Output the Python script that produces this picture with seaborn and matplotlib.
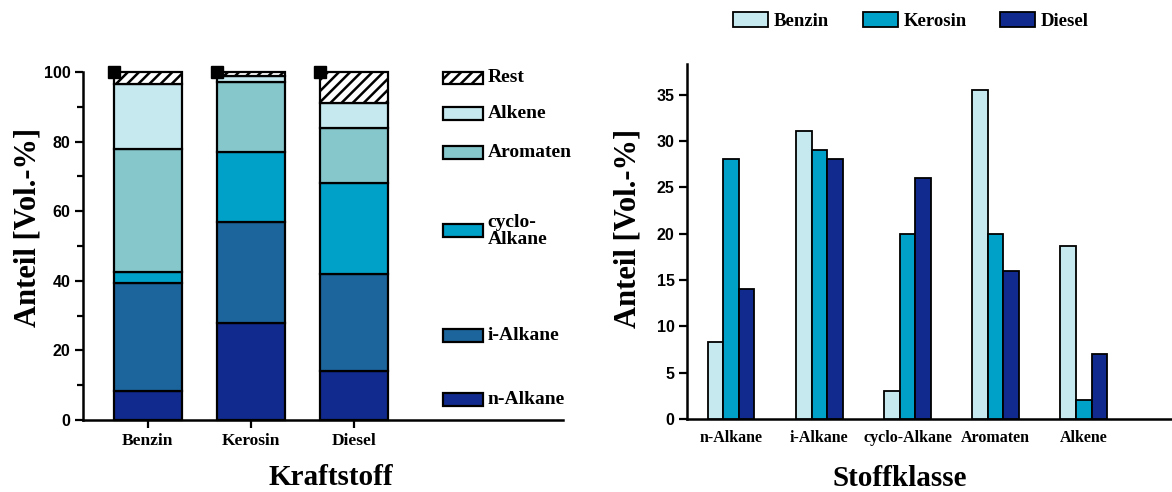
import numpy as np
import pandas as pd
import matplotlib.pyplot as plt
import seaborn as sns
from matplotlib.patches import Rectangle

# data
fuels = ["Benzin", "Kerosin", "Diesel"]
classes = ["n-Alkane", "i-Alkane", "cyclo-Alkane", "Aromaten", "Alkene"]
benzin = [8.3, 31.1, 3.0, 35.5, 18.7]
kerosin = [28.0, 29.0, 20.0, 20.0, 2.0]
diesel = [14.0, 28.0, 26.0, 16.0, 7.0]
totals = [100.0, 100.0, 100.0]

stack_names = ["n-Alkane", "i-Alkane", "cyclo-\nAlkane", "Aromaten", "Alkene", "Rest"]
class_colors = ["#112a8e", "#1b649c", "#00a1c8", "#86c7cc", "#c6e9f0", "white"]
fuel_colors = ["#c6e9f0", "#00a1c8", "#112a8e"]

sns.set_style("ticks")
plt.rcParams.update({
    "hatch.linewidth": 1.8,
    "text.color": "black",
    "axes.labelcolor": "black",
    "axes.edgecolor": "black",
    "xtick.color": "black",
    "ytick.color": "black",
})
SANS = ["Liberation Sans", "DejaVu Sans"]
SERIF = ["Liberation Serif", "DejaVu Serif"]

fig = plt.figure(figsize=(11.72, 4.92), dpi=100)
ax1 = fig.add_axes([0.0708, 0.1463, 0.4096, 0.7073])
ax2 = fig.add_axes([0.5862, 0.1484, 0.4138, 0.7215])

# ---------------- left: stacked bars ----------------
comp = np.array([benzin, kerosin, diesel])  # fuels x classes
rest = np.array(totals) - comp.sum(axis=1)
layers = np.column_stack([comp, rest])
x = np.arange(len(fuels))
bw = 0.66
bottom = np.zeros(len(fuels))
for k in range(layers.shape[1]):
    ax1.bar(x, layers[:, k], bw, bottom=bottom, color=class_colors[k],
            edgecolor="black", linewidth=1.6, hatch="///" if k == 5 else None,
            clip_on=False, zorder=3)
    bottom += layers[:, k]
ax1.plot(x - bw / 2, totals, "s", color="black", markersize=8, clip_on=False, zorder=5)

ax1.set_xlim(-0.63, 4.03)
ax1.set_ylim(0, 100)
ax1.set_yticks([0, 20, 40, 60, 80, 100])
ax1.set_yticks([10, 30, 50, 70, 90], minor=True)
ax1.set_xticks(x)
ax1.set_xticklabels(fuels, family=SERIF, fontweight="bold", fontsize=12.5)
for t in ax1.get_yticklabels():
    t.set_family(SANS)
    t.set_fontweight("bold")
    t.set_fontsize(11.5)
ax1.tick_params(axis="both", which="major", length=6, width=1.6, pad=3)
ax1.tick_params(axis="y", which="minor", length=4, width=1.6)
ax1.set_ylabel("Anteil [Vol.-%]", family=SERIF, fontweight="bold", fontsize=22)
ax1.set_xlabel("Kraftstoff", family=SERIF, fontweight="bold", fontsize=21)
ax1.yaxis.set_label_coords(-0.085, 0.552)
ax1.xaxis.set_label_coords(0.517, -0.125)
sns.despine(ax=ax1)
for s in ["left", "bottom"]:
    ax1.spines[s].set_linewidth(1.8)

# manual legend for stacked chart
leg_y = [6.0, 24.4, 54.4, 76.8, 88.0, 98.3]
for k in range(len(stack_names)):
    ax1.add_patch(Rectangle((2.86, leg_y[k] - 1.85), 0.39, 3.7, facecolor=class_colors[k],
                            edgecolor="black", linewidth=1.6,
                            hatch="///" if k == 5 else None, clip_on=False))
    ax1.text(3.3, leg_y[k], stack_names[k], family=SERIF, fontweight="bold",
             fontsize=14, va="center", ha="left", linespacing=1.0)

# ---------------- right: grouped bars ----------------
df = pd.DataFrame({
    "Stoffklasse": classes * 3,
    "Anteil": benzin + kerosin + diesel,
    "Kraftstoff": ["Benzin"] * 5 + ["Kerosin"] * 5 + ["Diesel"] * 5,
})
sns.barplot(data=df, x="Stoffklasse", y="Anteil", hue="Kraftstoff", order=classes,
            hue_order=fuels, palette=fuel_colors, width=0.53, gap=0,
            edgecolor="black", linewidth=1.3, saturation=1, ax=ax2, zorder=3)
ax2.set_xlim(-0.5, 5.0)
ax2.set_ylim(0, 38.3)
ax2.set_yticks([0, 5, 10, 15, 20, 25, 30, 35])
ax2.set_xticks(range(len(classes)))
ax2.set_xticklabels(classes, family=SERIF, fontweight="bold", fontsize=11.5)
for t in ax2.get_yticklabels():
    t.set_family(SANS)
    t.set_fontweight("bold")
    t.set_fontsize(11.5)
ax2.tick_params(axis="y", length=6, width=1.6, pad=3)
ax2.tick_params(axis="x", length=0, pad=8)
ax2.set_ylabel("Anteil [Vol.-%]", family=SERIF, fontweight="bold", fontsize=22)
ax2.set_xlabel("Stoffklasse", family=SERIF, fontweight="bold", fontsize=21)
ax2.yaxis.set_label_coords(-0.091, 0.538)
ax2.xaxis.set_label_coords(0.439, -0.13)
sns.despine(ax=ax2)
for s in ["left", "bottom"]:
    ax2.spines[s].set_linewidth(1.8)

handles, labels = ax2.get_legend_handles_labels()
ax2.legend(handles, labels, loc="center left", bbox_to_anchor=(0.6254, 0.957),
           bbox_transform=fig.transFigure, ncol=3, frameon=False, borderpad=0,
           borderaxespad=0, handlelength=1.87, handleheight=0.85, handletextpad=0.3,
           columnspacing=1.8, prop={"family": SERIF, "weight": "bold", "size": 13.5})

fig.savefig("out.png", dpi=100)
